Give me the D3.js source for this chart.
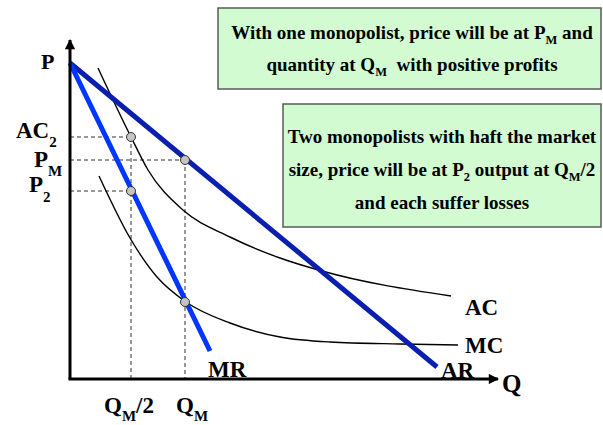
<!DOCTYPE html>
<html>
<head>
<meta charset="utf-8">
<script src="https://cdn.jsdelivr.net/npm/d3@7"></script>
<style>
  body { margin: 0; background: #fff; }
  text { font-family: 'Liberation Serif', 'Times New Roman', serif; font-weight: bold; white-space: pre; }
</style>
</head>
<body>
<div id="chart"></div>
<script>
// curves, in price / quantity units
var arLine = [[0, 31.6], [36.7, 1.2]];
var mrLine = [[0, 31.6], [14.0, 2.8]];
var acCurve = [[2.8, 31.1], [6.1, 24.2], [7.8, 20.9], [11.3, 16.9], [16.0, 14.2], [21.0, 12.1], [25.2, 10.8], [38.1, 8.3]];
var mcCurve = [[2.9, 20.3], [6.0, 14.1], [8.7, 10.2], [11.6, 7.7], [16.0, 5.6], [21.0, 4.2], [26.0, 3.7], [33.0, 3.5], [38.8, 3.4]];

// key quantities and prices
var qHalf = 6.1, qM = 11.5;
var ac2 = 24.2, pM = 21.9, p2 = 18.8, mcQM = 7.7;

var dots = [[qHalf, ac2], [qM, pM], [qHalf, p2], [qM, mcQM]];
var hGuides = [[qHalf, ac2], [qM, pM], [qHalf, p2]];
var vGuides = [[qHalf, ac2], [qM, pM]];

var boxOne = [
    [['With one monopolist, price will be at P'], ['M', 1], [' and']],
    [['quantity at Q'], ['M', 1], ['  with positive profits']]
];
var boxTwo = [
    [['Two monopolists with haft the market']],
    [['size, price will be at P'], ['2', 1], [' output at Q'], ['M', 1], ['/2']],
    [['and each suffer losses']]
];

var W = 603, H = 425;

var x = d3.scaleLinear().domain([0, 42.8]).range([70, 498]);
var y = d3.scaleLinear().domain([0, 33.9]).range([379, 40]);

var svg = d3.select('#chart').append('svg')
    .attr('width', W)
    .attr('height', H);

var defs = svg.append('defs');
defs.append('marker')
    .attr('id', 'arrow')
    .attr('viewBox', '0 0 10 10')
    .attr('refX', 9).attr('refY', 5)
    .attr('markerWidth', 4.2).attr('markerHeight', 3.4)
    .attr('markerUnits', 'strokeWidth')
    .attr('orient', 'auto')
    .append('path')
    .attr('d', 'M0,0L10,5L0,10z')
    .attr('fill', '#000');

function rich(sel, px, py, parts, size, subSize, shift, anchor) {
    var t = sel.append('text')
        .attr('x', px).attr('y', py)
        .attr('font-size', size)
        .attr('text-anchor', anchor || 'start')
        .attr('fill', '#000');
    var down = false;
    parts.forEach(function(p) {
        var ts = t.append('tspan').text(p[0]);
        if (p[1]) {
            ts.attr('font-size', subSize).attr('dy', down ? 0 : shift);
            down = true;
        } else if (down) {
            ts.attr('dy', -shift);
            down = false;
        }
    });
    return t;
}

// text boxes
var boxes = [
    {x: 218, y: 8, w: 383, h: 81, cx: 412, base: 39, step: 32, lines: boxOne},
    {x: 283, y: 104, w: 318, h: 123, cx: 442, base: 143, step: 33, lines: boxTwo}
];
boxes.forEach(function(b) {
    svg.append('rect')
        .attr('x', b.x).attr('y', b.y)
        .attr('width', b.w).attr('height', b.h)
        .attr('fill', '#d2fbd2')
        .attr('stroke', '#5a5a5a')
        .attr('stroke-width', 1.5);
    b.lines.forEach(function(l, i) {
        rich(svg, b.cx, b.base + i * b.step, l, 19, 12.5, 4.5, 'middle');
    });
});

// dashed guides
svg.selectAll('.hguide').data(hGuides).enter().append('line')
    .attr('x1', x(0)).attr('x2', function(d) { return x(d[0]); })
    .attr('y1', function(d) { return y(d[1]); }).attr('y2', function(d) { return y(d[1]); })
    .attr('stroke', '#333').attr('stroke-width', 1).attr('stroke-dasharray', '4,3');
svg.selectAll('.vguide').data(vGuides).enter().append('line')
    .attr('x1', function(d) { return x(d[0]); }).attr('x2', function(d) { return x(d[0]); })
    .attr('y1', function(d) { return y(d[1]); }).attr('y2', y(0))
    .attr('stroke', '#333').attr('stroke-width', 1).attr('stroke-dasharray', '4,3');

var curve = d3.line()
    .x(function(d) { return x(d[0]); })
    .y(function(d) { return y(d[1]); })
    .curve(d3.curveMonotoneX);
var straight = d3.line()
    .x(function(d) { return x(d[0]); })
    .y(function(d) { return y(d[1]); });

svg.append('path').attr('d', curve(acCurve))
    .attr('fill', 'none').attr('stroke', '#000').attr('stroke-width', 1.4);
svg.append('path').attr('d', curve(mcCurve))
    .attr('fill', 'none').attr('stroke', '#000').attr('stroke-width', 1.4);

svg.append('path').attr('d', straight(arLine))
    .attr('fill', 'none').attr('stroke', '#0a1fb0').attr('stroke-width', 5);
svg.append('path').attr('d', straight(mrLine))
    .attr('fill', 'none').attr('stroke', '#0036ff').attr('stroke-width', 5);

// axes
svg.append('line')
    .attr('x1', x(0)).attr('y1', y(0)).attr('x2', x(0)).attr('y2', y.range()[1])
    .attr('stroke', '#000').attr('stroke-width', 3).attr('marker-end', 'url(#arrow)');
svg.append('line')
    .attr('x1', x(0) - 1.5).attr('y1', y(0)).attr('x2', x.range()[1]).attr('y2', y(0))
    .attr('stroke', '#000').attr('stroke-width', 3).attr('marker-end', 'url(#arrow)');

svg.selectAll('.dot').data(dots).enter().append('circle')
    .attr('cx', function(d) { return x(d[0]); })
    .attr('cy', function(d) { return y(d[1]); })
    .attr('r', 4.5)
    .attr('fill', '#c4c4c4')
    .attr('stroke', '#333')
    .attr('stroke-width', 1);

// labels
rich(svg, 41, 69, [['P']], 22, 14, 9);
rich(svg, 16, 138, [['AC'], ['2', 1]], 23, 15, 9);
rich(svg, 34, 167, [['P'], ['M', 1]], 23, 15, 9);
rich(svg, 29, 192, [['P'], ['2', 1]], 23, 15, 10);

rich(svg, 104, 413, [['Q'], ['M', 1], ['/2']], 23, 15, 8);
rich(svg, 176, 413, [['Q'], ['M', 1]], 23, 15, 8);
rich(svg, 502, 392, [['Q']], 25, 15, 8);

rich(svg, 208, 377, [['MR']], 23, 14, 8);
rich(svg, 441, 378, [['AR']], 23, 14, 8);
rich(svg, 465, 315, [['AC']], 23, 14, 8);
rich(svg, 465, 353, [['MC']], 23, 14, 8);
</script>
</body>
</html>
